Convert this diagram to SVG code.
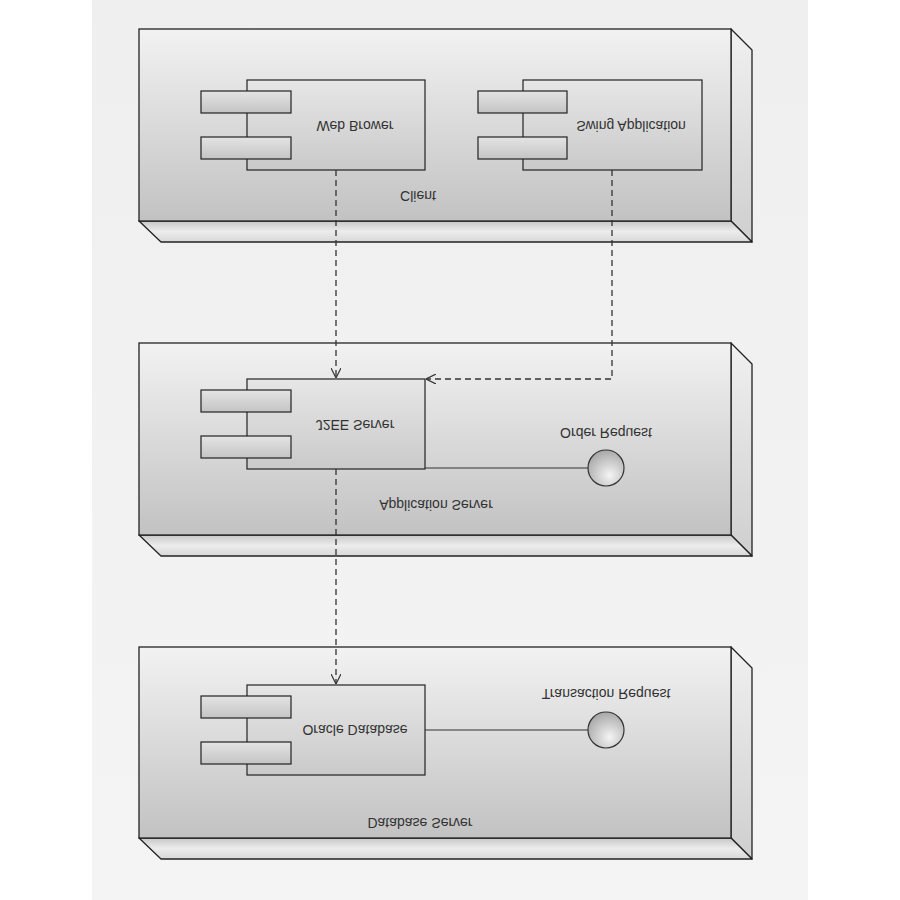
<svg xmlns="http://www.w3.org/2000/svg" width="900" height="900" viewBox="0 0 900 900">
<defs>
<linearGradient id="front" x1="0" y1="0" x2="0" y2="1"><stop offset="0" stop-color="#f2f2f2"/><stop offset="1" stop-color="#c2c2c2"/></linearGradient>
<linearGradient id="bottom" x1="0" y1="0" x2="0" y2="1"><stop offset="0" stop-color="#c8c8c8"/><stop offset="0.5" stop-color="#ececec"/><stop offset="1" stop-color="#d8d8d8"/></linearGradient>
<linearGradient id="side" x1="0" y1="0" x2="0" y2="1"><stop offset="0" stop-color="#f0f0f0"/><stop offset="1" stop-color="#cfcfcf"/></linearGradient>
<linearGradient id="comp" x1="0" y1="0" x2="0" y2="1"><stop offset="0" stop-color="#e6e6e6"/><stop offset="1" stop-color="#cacaca"/></linearGradient>
<linearGradient id="port" x1="0" y1="0" x2="0" y2="1"><stop offset="0" stop-color="#e4e4e4"/><stop offset="1" stop-color="#c4c4c4"/></linearGradient>
<radialGradient id="ball" cx="0.6" cy="0.7" r="0.7"><stop offset="0" stop-color="#f4f4f4"/><stop offset="1" stop-color="#a8a8a8"/></radialGradient>
<linearGradient id="page" x1="0" y1="0" x2="0" y2="1"><stop offset="0" stop-color="#efefef"/><stop offset="1" stop-color="#f4f4f4"/></linearGradient>
<marker id="open" viewBox="0 0 10 10" refX="10" refY="5" markerWidth="10" markerHeight="10" markerUnits="userSpaceOnUse" orient="auto"><path d="M0,0 L10,5 L0,10" fill="none" stroke="#333" stroke-width="1.2"/></marker>
</defs>
<style>
.f{fill:url(#front);stroke:#222;stroke-width:1.3}
.b{fill:url(#bottom);stroke:#222;stroke-width:1.3;stroke-linejoin:round}
.s{fill:url(#side);stroke:#222;stroke-width:1.3;stroke-linejoin:round}
.c{fill:url(#comp);stroke:#222;stroke-width:1.2}
.p{fill:url(#port);stroke:#222;stroke-width:1.2}
.ball{fill:url(#ball);stroke:#333;stroke-width:1.2}
.ln{stroke:#333;stroke-width:1.1;fill:none}
.d{stroke:#333;stroke-width:1.3;fill:none;stroke-dasharray:6 4}
text{font-family:"Liberation Sans",Arial,sans-serif;font-size:14px;fill:#333;text-anchor:middle}
</style>
<rect x="0" y="0" width="900" height="900" fill="#ffffff"/>
<rect x="92" y="0" width="716" height="900" fill="url(#page)"/>

<g id="client">
<polygon class="s" points="731,29 752,50 752,242 731,221"/>
<polygon class="b" points="139,221 731,221 752,242 161,242"/>
<rect class="f" x="139" y="29" width="592" height="192"/>
<text transform="translate(418,191) scale(1,-1)">Client</text>
</g>
<g id="web-brower">
<rect class="c" x="247" y="80" width="178" height="90"/>
<rect class="p" x="201" y="91" width="90" height="22"/>
<rect class="p" x="201" y="137" width="90" height="22"/>
<text transform="translate(355,121) scale(1,-1)">Web Brower</text>
</g>
<g id="swing-application">
<rect class="c" x="523" y="80" width="179" height="90"/>
<rect class="p" x="478" y="91" width="89" height="22"/>
<rect class="p" x="478" y="137" width="89" height="22"/>
<text transform="translate(631,121) scale(1,-1)">Swing Application</text>
</g>

<g id="application-server">
<polygon class="s" points="731,343 752,364 752,556 731,535"/>
<polygon class="b" points="139,535 731,535 752,556 161,556"/>
<rect class="f" x="139" y="343" width="592" height="192"/>
<text transform="translate(436,500) scale(1,-1)">Application Server</text>
</g>
<g id="j2ee-server">
<rect class="c" x="247" y="379" width="178" height="90"/>
<rect class="p" x="201" y="390" width="90" height="22"/>
<rect class="p" x="201" y="436" width="90" height="22"/>
<text transform="translate(355,420) scale(1,-1)">J2EE Server</text>
</g>
<g id="order-request">
<line class="ln" x1="425" y1="468" x2="589" y2="468"/>
<circle class="ball" cx="606" cy="468" r="18"/>
<text transform="translate(606,428) scale(1,-1)">Order Request</text>
</g>

<g id="database-server">
<polygon class="s" points="731,647 752,668 752,859 731,838"/>
<polygon class="b" points="139,838 731,838 752,859 161,859"/>
<rect class="f" x="139" y="647" width="592" height="191"/>
<text transform="translate(420,818) scale(1,-1)">Database Server</text>
</g>
<g id="oracle-database">
<rect class="c" x="247" y="685" width="178" height="90"/>
<rect class="p" x="201" y="696" width="90" height="22"/>
<rect class="p" x="201" y="742" width="90" height="22"/>
<text transform="translate(355,725) scale(1,-1)">Oracle Database</text>
</g>
<g id="transaction-request">
<line class="ln" x1="425" y1="730" x2="588" y2="730"/>
<circle class="ball" cx="606" cy="730" r="18"/>
<text transform="translate(606,689) scale(1,-1)">Transaction Request</text>
</g>

<g id="connectors">
<path class="d" d="M336,170 L336,378" marker-end="url(#open)"/>
<path class="d" d="M612,170 L612,379 L426,379" marker-end="url(#open)"/>
<path class="d" d="M336,469 L336,684" marker-end="url(#open)"/>
</g>
</svg>
